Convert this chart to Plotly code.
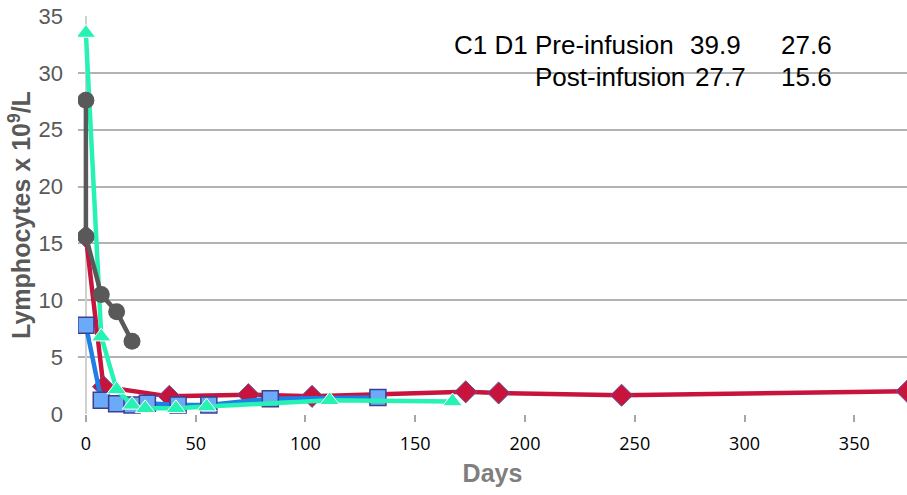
import plotly.graph_objects as go

# Data (days, lymphocytes x10^9/L)
gray_days = [0, 0, 7, 14, 21]
gray_vals = [27.6, 15.6, 10.5, 9.0, 6.4]

red_days = [0, 8, 38, 74, 103, 173, 188, 244, 374]
red_vals = [15.6, 2.4, 1.55, 1.7, 1.55, 1.95, 1.85, 1.65, 2.0]

blue_days = [0, 7, 14, 21, 28, 42, 56, 84, 133]
blue_vals = [7.8, 1.2, 0.9, 0.8, 0.95, 0.8, 0.8, 1.35, 1.45]

green_days = [0, 7, 14, 21, 27, 41, 55, 111, 167]
green_vals = [33.5, 6.8, 2.15, 0.8, 0.5, 0.5, 0.65, 1.2, 1.1]

x_ticks = [0, 50, 100, 150, 200, 250, 300, 350]
y_ticks = [0, 5, 10, 15, 20, 25, 30, 35]

fig = go.Figure()

fig.add_trace(go.Scatter(
    x=red_days, y=red_vals, mode="lines+markers",
    line=dict(color="#C8143C", width=4.5),
    marker=dict(symbol="diamond", size=17, color="#C8143C",
                line=dict(color="#5B5BA0", width=1)),
    showlegend=False))

fig.add_trace(go.Scatter(
    x=blue_days, y=blue_vals, mode="lines+markers",
    line=dict(color="#1F7FE8", width=4.5),
    marker=dict(symbol="square", size=16, color="#6AAAF8",
                line=dict(color="#3F3F8F", width=1.5)),
    showlegend=False))

fig.add_trace(go.Scatter(
    x=green_days, y=green_vals, mode="lines+markers",
    line=dict(color="#26F2B4", width=4.5),
    marker=dict(symbol="triangle-up", size=17, color="#26F2B4",
                line=dict(color="white", width=1)),
    showlegend=False))

fig.add_trace(go.Scatter(
    x=gray_days, y=gray_vals, mode="lines+markers",
    line=dict(color="#595959", width=4.5),
    marker=dict(symbol="circle", size=17, color="#595959",
                line=dict(width=0)),
    showlegend=False))

L, R, T, B = 78, 0, 16, 81
W, H = 907, 495
pw, ph = W - L - R, H - T - B


def px(xp):
    return (xp - L) / pw


def py(yp):
    return (H - B - yp) / ph


ann_font = dict(family="Liberation Sans, Arial", size=26, color="black")
texts = [
    ("C1 D1 Pre-infusion", 452, 45),
    ("39.9", 688, 45),
    ("27.6", 779, 45),
    ("Post-infusion", 533, 77),
    ("27.7", 693, 77),
    ("15.6", 779, 77),
]
for t, x, y in texts:
    fig.add_annotation(text=t, x=px(x), y=py(y), xref="paper", yref="paper",
                       xanchor="left", yanchor="middle", showarrow=False,
                       font=ann_font)

fig.update_layout(
    width=W, height=H,
    margin=dict(l=L, r=R, t=T, b=B, pad=0),
    plot_bgcolor="white", paper_bgcolor="white",
    xaxis=dict(
        range=[-3.6, 374], tickvals=x_ticks, ticktext=[str(v) for v in x_ticks],
        showgrid=False, zeroline=True, zerolinecolor="#D0D0D0", zerolinewidth=2,
        ticks="outside", ticklen=7, tickcolor="#A6A6A6", tickwidth=1.5,
        showline=False,
        tickfont=dict(family="Open Sans, Liberation Sans", size=18, color="black"),
        ticklabelstandoff=6,
        title=dict(text="<b>Days</b>", standoff=10,
                   font=dict(family="Liberation Sans, Arial", size=25, color="#7F7F7F")),
    ),
    yaxis=dict(
        range=[0, 35], tickvals=y_ticks, ticktext=[str(v) for v in y_ticks],
        showgrid=True, gridcolor="#B3B3B3", gridwidth=1.5,
        zeroline=False, showline=False,
        tickfont=dict(family="Liberation Sans, Arial", size=22, color="#595959"),
        ticklabelstandoff=14,
        title=dict(text="<b>Lymphocytes x 10<sup>9</sup>/L</b>", standoff=0,
                   font=dict(family="Liberation Sans, Arial", size=25, color="#595959")),
    ),
)

fig.write_html("out.html")
